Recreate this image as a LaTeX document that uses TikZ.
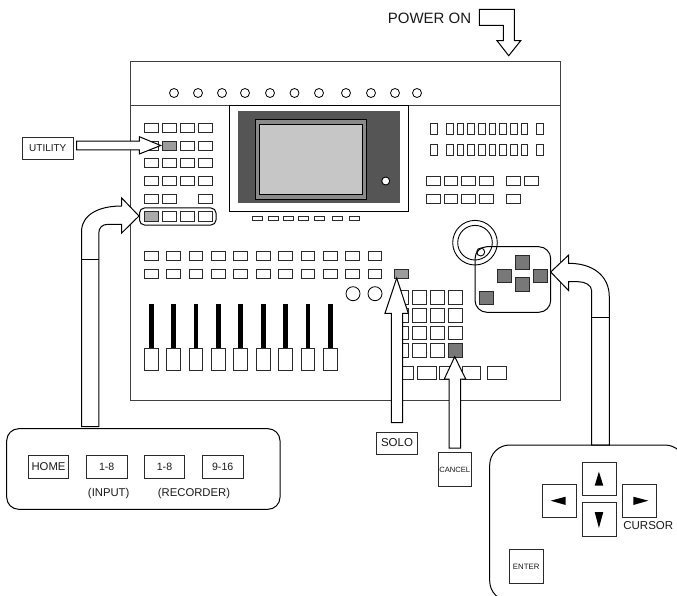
\documentclass[tikz,border=0pt]{standalone}
\usepackage{fontspec}
\setmainfont{Liberation Sans}
\usepackage{xcolor}
\usetikzlibrary{arrows.meta,positioning,calc}
\definecolor{PanelLine}{HTML}{404040}
\definecolor{KeyLine}{HTML}{2A2A2A}
\definecolor{DarkBezel}{HTML}{555555}
\definecolor{MidBezel}{HTML}{8A8A8A}
\definecolor{ScreenGray}{HTML}{C6C6C6}
\definecolor{KeyHigh}{HTML}{9C9C9C}
\definecolor{KeyLit}{HTML}{787878}
\tikzset{
    key/.style={draw=KeyLine, fill=white, line width=1pt},
    litkey/.style={draw=KeyLine, fill=KeyLit, line width=1pt},
    highkey/.style={draw=KeyLine, fill=KeyHigh, line width=1pt},
    knob/.style={draw=black, fill=white, line width=0.8pt},
    blockarrow/.style={draw=black, fill=white, line width=1pt, line join=miter},
    groupbox/.style={draw=black, rounded corners=12pt, line width=1pt},
    labelbox/.style={draw=KeyLine, fill=white, line width=1pt, inner sep=0pt, text=black!90, anchor=center}
}
\begin{document}
\begin{tikzpicture}[x=1pt,y=-1pt]
    \useasboundingbox (0,0) rectangle (677,596);
    \clip (0,0) rectangle (677,596);
    % main panel
    \draw[PanelLine, line width=1pt] (130.7,62) rectangle (560.3,400.7);
    \draw[PanelLine, line width=1.2pt] (130.7,105.7) -- (560.3,105.7);
    \foreach \x in {174,198,222,245,270,294.5,319,346,371,395,417}{
        \draw[knob] (\x,93) circle (4.5);
    }
    % display
    \draw[draw=black, fill=white, line width=1pt] (229.7,106) rectangle (408.3,212);
    \fill[DarkBezel] (238.3,110.7) rectangle (400,203);
    \draw[black, fill=MidBezel, line width=0.9pt] (255.7,119.7) rectangle (366.5,199);
    \draw[black, fill=ScreenGray, line width=0.9pt] (259.3,124) rectangle (362,194);
    \draw[black, fill=white, line width=0.9pt] (385.7,181) circle (4);
    \foreach \x in {252.7,268.7,283.3,298.7,314.7,332,349}{
        \draw[key] (\x,216.3) rectangle ++(10,4.5);
    }
    % left key block
    \foreach \y in {124,141.5,159,177}{
        \foreach \x in {144.3,162.3,180.3,198.3}{
            \draw[key] (\x,\y) rectangle ++(13.7,9);
        }
    }
    \draw[highkey] (162.3,141.5) rectangle ++(13.7,9);
    \foreach \x in {144.3,162.3,198.3}{
        \draw[key] (\x,194.3) rectangle ++(13.7,9);
    }
    \foreach \x in {162.3,180.3,198.3}{
        \draw[key] (\x,212) rectangle ++(13.7,9);
    }
    \draw[draw=KeyLine, fill=KeyHigh!85!white, line width=1pt] (144.3,212) rectangle ++(13.7,9);
    \draw[black, rounded corners=5pt, line width=1pt] (139.5,208) rectangle (216,225);
    % channel keys and faders
    \foreach \x in {144.3,166.7,189,211.3,233.7,256.3,278.7,301,323.3,345.3,368}{
        \draw[key] (\x,251.7) rectangle ++(13.7,8.7);
        \draw[key] (\x,269.3) rectangle ++(13.7,8.7);
    }
    \foreach \x in {144.3,166.7,189,211.3,233.7,256.3,278.7,301,323.3}{
        \fill[black] (\x+4.5,304) rectangle ++(4.8,44.3);
        \draw[key] (\x,348.3) rectangle ++(13.7,22);
    }
    \draw[highkey] (394.7,269.3) rectangle ++(13.7,8.7);
    \draw[knob] (353,293.7) circle (7);
    \draw[knob] (375,293.7) circle (7);
    % keypad
    \foreach \y in {290.7,308.3,326,343.7}{
        \foreach \x in {394.7,412.7,430.7,448.3}{
            \draw[key] (\x,\y) rectangle ++(13.7,13.7);
        }
    }
    \draw[litkey] (448.3,343.7) rectangle ++(13.7,13.7);
    \foreach \x in {394.7,417.7,439.7,462,487.7}{
        \draw[key] (\x,366) rectangle ++(18.5,13);
    }
    % right key block
    \foreach \y in {124,144.7}{
        \foreach \x in {430.3,446.3,457,467.7,478.3,489,499.7,510.3,521,536.7}{
            \draw[key] (\x,\y) rectangle ++(6.7,10.4);
        }
    }
    \foreach \x in {426.3,444,461.7,479.5,506.3,524.3}{
        \draw[key] (\x,176.7) rectangle ++(13.8,9);
    }
    \foreach \x in {426.3,444,461.7,479.5,506.3}{
        \draw[key] (\x,194.3) rectangle ++(13.8,9);
    }
    % dial and cursor keys
    \draw[black, line width=0.9pt] (475,242.7) circle (22.3);
    \draw[black, line width=0.9pt] (475,242.7) circle (17.3);
    \draw[groupbox] (475,246.7) rectangle (550.7,312.3);
    \draw[black, line width=0.9pt] (480.7,252) circle (4);
    \draw[litkey] (515.2,255.7) rectangle ++(14.2,13.7);
    \draw[litkey] (497.7,269.3) rectangle ++(14,13.5);
    \draw[litkey] (533.3,269.3) rectangle ++(13.8,13.5);
    \draw[litkey] (515.3,277.7) rectangle ++(14,13.7);
    \draw[litkey] (479.7,291) rectangle ++(14,13.5);
    % POWER ON
    \node[font=\fontsize{15}{15}\selectfont, text=black!90] (poweron) at (429.5,18.3) {POWER ON};
    \draw[blockarrow] (479.3,9.3) -- (514.3,9.3) -- (514.3,40.7) -- (520.7,40.7) -- (508.7,55.7) -- (497,40.7)
        -- (503.3,40.7) -- (503.3,25.3) -- (479.3,25.3) -- cycle;
    % UTILITY
    \node[labelbox, minimum width=50.5pt, minimum height=22pt, font=\fontsize{10}{10}\selectfont] (utility) at (47.8,148.3) {UTILITY};
    \draw[blockarrow] (76.5,141.2) -- (139.3,141.2) -- (139.3,136.7) -- (160.7,145.5) -- (139.3,154)
        -- (139.3,149.8) -- (76.5,149.8) -- cycle;
    % panel with HOME
    \draw[blockarrow] (81.5,426.7) -- (81.5,232) .. controls (81.5,215) and (98,206) .. (121.7,206) -- (121.7,198)
        -- (139,216) -- (121.7,233) -- (121.7,224.3) -- (108,224.3) .. controls (102,224.3) and (98.8,228) .. (98.8,233)
        -- (98.8,426.7) -- cycle;
    \draw[black, line width=1pt] (81.5,259.5) -- (98.8,259.5);
    \draw[groupbox] (6.7,428.7) rectangle (280,509.3);
    \node[labelbox, minimum width=40.4pt, minimum height=22.6pt, font=\fontsize{11.3}{11.3}\selectfont] (home) at (48.5,467) {HOME};
    \node[labelbox, minimum width=40.7pt, minimum height=22.6pt, font=\fontsize{10.6}{10.6}\selectfont] (input) at (106.7,467) {1-8};
    \node[labelbox, minimum width=40.4pt, minimum height=22.6pt, font=\fontsize{10.6}{10.6}\selectfont] (rec) at (164.5,467) {1-8};
    \node[labelbox, minimum width=40.7pt, minimum height=22.6pt, font=\fontsize{10.6}{10.6}\selectfont] (recb) at (222.7,467) {9-16};
    \node[font=\fontsize{11.3}{11.3}\selectfont, text=black!90] (inputlabel) at (108.7,493.3) {(INPUT)};
    \node[font=\fontsize{11.3}{11.3}\selectfont, text=black!90] (reclabel) at (194,493.3) {(RECORDER)};
    % SOLO
    \draw[blockarrow] (396.7,278) -- (408.3,313.3) -- (402.7,313.3) -- (402.7,422.7) -- (391.3,422.7) -- (391.3,313.3)
        -- (385,313.3) -- cycle;
    \node[labelbox, minimum width=40.6pt, minimum height=22pt, font=\fontsize{11.5}{11.5}\selectfont] (solo) at (397,443) {SOLO};
    % CANCEL
    \draw[blockarrow] (454.7,356.7) -- (465.7,379) -- (460.7,379) -- (460.7,448) -- (449,448) -- (449,379)
        -- (444.3,379) -- cycle;
    \node[labelbox, minimum width=33.3pt, minimum height=33.6pt, font=\fontsize{7.6}{7.6}\selectfont] (cancel) at (454.7,469.5) {CANCEL};
    % cursor panel
    \draw[blockarrow] (591.7,445) -- (591.7,291) .. controls (591.7,285) and (585,281.7) .. (578,281.7) -- (568.7,281.7)
        -- (568.7,290.7) -- (550.7,272) -- (568.7,255) -- (568.7,263.3) .. controls (592,263.3) and (609.3,275) .. (609.3,297)
        -- (609.3,445) -- cycle;
    \draw[black, line width=1pt] (591.7,317) -- (609.3,317);
    \draw[groupbox, rounded corners=20pt] (489.7,445) rectangle (685,601);
    \node[labelbox, minimum width=33.7pt, minimum height=33.3pt] (up) at (599.3,478.7) {};
    \node[labelbox, minimum width=33.7pt, minimum height=33.6pt] (down) at (599.3,519.5) {};
    \node[labelbox, minimum width=33.7pt, minimum height=33.3pt] (left) at (559.2,500.7) {};
    \node[labelbox, minimum width=33.6pt, minimum height=33.3pt] (right) at (639.5,500.7) {};
    \fill[black] (598.9,471.7) -- (603.3,485.7) -- (594.7,485.7) -- cycle;
    \fill[black] (598.9,528) -- (603.3,512) -- (594.7,512) -- cycle;
    \fill[black] (550.7,500.7) -- (565.7,496.7) -- (565.7,505) -- cycle;
    \fill[black] (648.3,500.7) -- (633.3,496.7) -- (633.3,505) -- cycle;
    \node[font=\fontsize{11.5}{11.5}\selectfont, text=black!90] (cursor) at (648.3,525.7) {CURSOR};
    \node[labelbox, minimum width=33.7pt, minimum height=33.6pt, font=\fontsize{7.8}{7.8}\selectfont] (enter) at (526.2,566.5) {ENTER};
\end{tikzpicture}
\end{document}
